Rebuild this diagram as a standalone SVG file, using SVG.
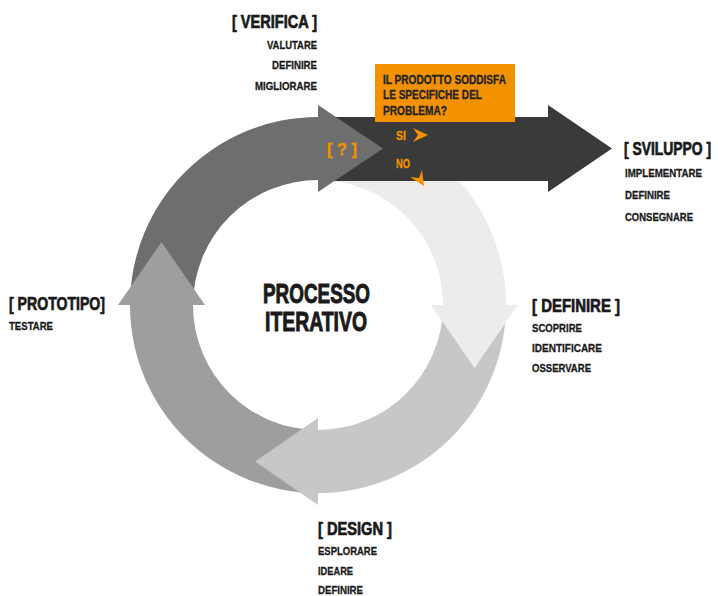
<svg xmlns="http://www.w3.org/2000/svg" width="718" height="596" viewBox="0 0 718 596">
  <style>
    text { font-family: "Liberation Sans Narrow", "Liberation Sans", Arial, sans-serif; font-weight: bold; fill: #1a1a1a; }
    .head { font-size: 18px; stroke: #1a1a1a; stroke-width: 0.7px; }
    .item { font-size: 11.5px; stroke: #1a1a1a; stroke-width: 0.3px; }
    .title { font-size: 28px; stroke: #1a1a1a; stroke-width: 1px; }
    .q { font-size: 12px; fill: #222222; stroke: #222222; stroke-width: 0.3px; }
    .orange { fill: #f39200; }
    text.orange { stroke: #f39200; stroke-width: 0.3px; }
    .c-dark { fill: #3a3a3a; }
    .c-verifica { fill: #6e6e6e; }
    .c-prototipo { fill: #9e9e9e; }
    .c-design { fill: #c7c7c7; }
    .c-definire { fill: #ececec; }
  </style>

  <!-- Ring centre (318,305), inner radius 125, outer radius 188 -->
  <g id="connectors">
    <!-- Definire segment body (top to right), drawn first so the output band covers its start -->
    <path class="c-definire" d="M318 117 A188 188 0 0 1 506 305 L443 305 A125 125 0 0 0 318 180 Z"/>

    <!-- Output band towards Sviluppo -->
    <g id="band-sviluppo">
      <rect class="c-dark" x="318" y="117" width="231" height="64"/>
      <polygon class="c-dark" points="548,105 612,148.5 548,192"/>
    </g>

    <!-- Verifica segment (left to top), head points right -->
    <g id="arc-verifica">
      <path class="c-verifica" d="M130 305 A188 188 0 0 1 318 117 L318 180 A125 125 0 0 0 193 305 Z"/>
      <polygon class="c-verifica" points="318,105 383,148.5 318,192"/>
    </g>

    <!-- Prototipo segment (bottom to left), head points up -->
    <g id="arc-prototipo">
      <path class="c-prototipo" d="M318 493 A188 188 0 0 1 130 305 L193 305 A125 125 0 0 0 318 430 Z"/>
      <polygon class="c-prototipo" points="118,305 161.5,242 205,305"/>
    </g>

    <!-- Design segment (right to bottom), head points left -->
    <g id="arc-design">
      <path class="c-design" d="M506 305 A188 188 0 0 1 318 493 L318 430 A125 125 0 0 0 443 305 Z"/>
      <polygon class="c-design" points="318,418 255,461.5 318,505"/>
    </g>

    <!-- Definire head, points down -->
    <polygon class="c-definire" points="431,305 518,305 474.5,368"/>

    <!-- Decision chevrons -->
    <polygon class="orange" points="413,128 428,135 413,142 418,135"/>
    <polygon class="orange" points="410,177 424,186 422,170 419,178"/>
  </g>

  <g id="node-question">
    <rect class="orange" x="375" y="64" width="140" height="58"/>
    <text class="q" x="383" y="84" textLength="123" lengthAdjust="spacingAndGlyphs">IL PRODOTTO SODDISFA</text>
    <text class="q" x="383" y="99" textLength="99" lengthAdjust="spacingAndGlyphs">LE SPECIFICHE DEL</text>
    <text class="q" x="383" y="115" textLength="64" lengthAdjust="spacingAndGlyphs">PROBLEMA?</text>
  </g>

  <g id="node-decision">
    <text class="orange" x="327" y="155" font-size="17" textLength="30" lengthAdjust="spacingAndGlyphs">[ ? ]</text>
    <text class="orange" x="396" y="140" font-size="13" textLength="10" lengthAdjust="spacingAndGlyphs">SI</text>
    <text class="orange" x="396" y="168" font-size="13" textLength="14" lengthAdjust="spacingAndGlyphs">NO</text>
  </g>

  <g id="node-verifica">
    <text class="head" x="232" y="28" textLength="85" lengthAdjust="spacingAndGlyphs">[ VERIFICA ]</text>
    <text class="item" x="267" y="49" textLength="50" lengthAdjust="spacingAndGlyphs">VALUTARE</text>
    <text class="item" x="272" y="69" textLength="45" lengthAdjust="spacingAndGlyphs">DEFINIRE</text>
    <text class="item" x="255" y="90" textLength="62" lengthAdjust="spacingAndGlyphs">MIGLIORARE</text>
  </g>

  <g id="node-sviluppo">
    <text class="head" x="624" y="155" font-size="16.5" textLength="87" lengthAdjust="spacingAndGlyphs">[ SVILUPPO ]</text>
    <text class="item" x="625" y="177" textLength="77" lengthAdjust="spacingAndGlyphs">IMPLEMENTARE</text>
    <text class="item" x="625" y="199" textLength="45" lengthAdjust="spacingAndGlyphs">DEFINIRE</text>
    <text class="item" x="625" y="221" textLength="68" lengthAdjust="spacingAndGlyphs">CONSEGNARE</text>
  </g>

  <g id="node-definire">
    <text class="head" x="532" y="312" textLength="88" lengthAdjust="spacingAndGlyphs">[ DEFINIRE ]</text>
    <text class="item" x="532" y="332" textLength="50" lengthAdjust="spacingAndGlyphs">SCOPRIRE</text>
    <text class="item" x="532" y="352" textLength="70" lengthAdjust="spacingAndGlyphs">IDENTIFICARE</text>
    <text class="item" x="532" y="372" textLength="59" lengthAdjust="spacingAndGlyphs">OSSERVARE</text>
  </g>

  <g id="node-design">
    <text class="head" x="318" y="535" textLength="74" lengthAdjust="spacingAndGlyphs">[ DESIGN ]</text>
    <text class="item" x="318" y="555" textLength="59" lengthAdjust="spacingAndGlyphs">ESPLORARE</text>
    <text class="item" x="318" y="575" textLength="35" lengthAdjust="spacingAndGlyphs">IDEARE</text>
    <text class="item" x="318" y="594" textLength="45" lengthAdjust="spacingAndGlyphs">DEFINIRE</text>
  </g>

  <g id="node-prototipo">
    <text class="head" x="9" y="310" textLength="96" lengthAdjust="spacingAndGlyphs">[ PROTOTIPO]</text>
    <text class="item" x="9" y="330" textLength="44" lengthAdjust="spacingAndGlyphs">TESTARE</text>
  </g>

  <g id="node-processo">
    <text class="title" x="263" y="303" textLength="107" lengthAdjust="spacingAndGlyphs">PROCESSO</text>
    <text class="title" x="265" y="331" textLength="102" lengthAdjust="spacingAndGlyphs">ITERATIVO</text>
  </g>
</svg>
